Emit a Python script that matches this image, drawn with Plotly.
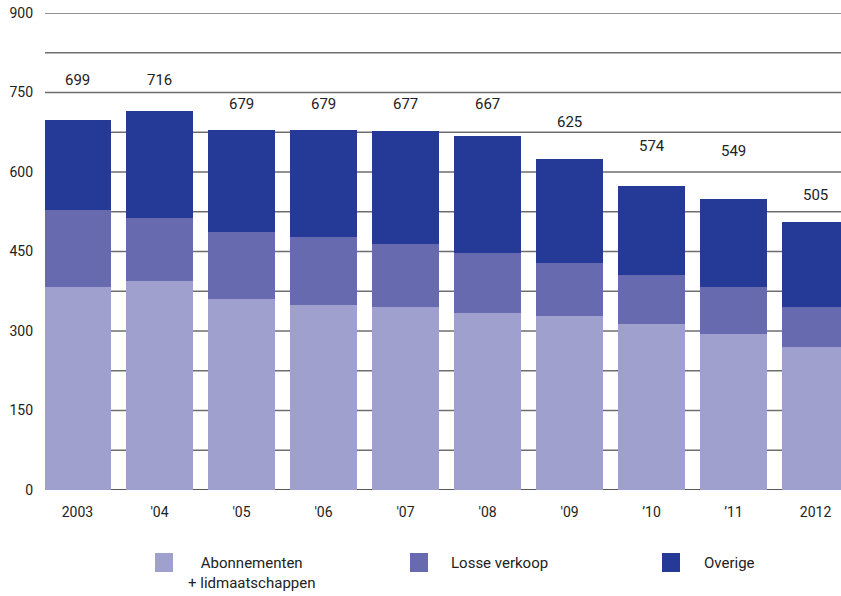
import plotly.graph_objects as go

categories = ["2003", "'04", "'05", "'06", "'07", "'08", "'09", "’10", "’11", "2012"]
abonnementen = [383, 394, 360, 349, 345, 334, 328, 313, 294, 270]
losse_verkoop = [145, 119, 127, 128, 119, 113, 100, 93, 89, 75]
overige = [171, 203, 192, 202, 213, 220, 197, 168, 166, 160]
totals = [699, 716, 679, 679, 677, 667, 625, 574, 549, 505]
label_y = [774, 774, 728, 728, 728, 728, 694, 649, 640, 557]

series_names = ["Abonnementen<br>+ lidmaatschappen", "Losse verkoop", "Overige"]
series_colors = ["#9FA0CD", "#676AAF", "#253A96"]

font_family = "Roboto, Liberation Sans, sans-serif"
text_color = "#222222"

W, H = 841, 596
L, R, T, B = 45, 0, 13, 106
pw, ph = W - L - R, H - T - B


def px_x(px):
    return (px - L) / pw


def px_y(py):
    return (H - B - py) / ph


fig = go.Figure()
for name, vals, col in zip(series_names, [abonnementen, losse_verkoop, overige], series_colors):
    fig.add_trace(go.Bar(x=list(range(len(categories))), y=vals, name=name,
                         marker=dict(color=col, line=dict(width=0)), showlegend=False))

for i, (t, ly) in enumerate(zip(totals, label_y)):
    fig.add_annotation(x=i, y=ly, text=str(t), showarrow=False,
                       font=dict(size=15, color=text_color, family=font_family),
                       xanchor="center", yanchor="middle")

# legend drawn manually in pixel positions
legend_sq_x = [155, 410, 662]
legend_tx_x = [186, 449, 702]
for name, col, sx, tx in zip(series_names, series_colors, legend_sq_x, legend_tx_x):
    fig.add_shape(type="rect", xref="paper", yref="paper",
                  x0=px_x(sx), x1=px_x(sx + 18), y0=px_y(553), y1=px_y(572),
                  fillcolor=col, line=dict(width=0))
    fig.add_annotation(xref="paper", yref="paper", x=px_x(tx), y=px_y(552),
                       text=name, showarrow=False, xanchor="left", yanchor="top",
                       align="center",
                       font=dict(size=15, color=text_color, family=font_family))

fig.update_layout(
    barmode="stack",
    bargap=0.183,
    width=W, height=H,
    margin=dict(l=L, r=R, t=T, b=B, autoexpand=False),
    plot_bgcolor="white", paper_bgcolor="white",
    font=dict(family=font_family, size=14, color=text_color),
    showlegend=False,
    xaxis=dict(range=[-0.396, 9.31], showgrid=False, ticks="", showline=False,
               tickmode="array", tickvals=list(range(len(categories))), ticktext=categories,
               tickfont=dict(size=14), ticklabelstandoff=12, zeroline=False, automargin=False),
    yaxis=dict(range=[0, 900], tickvals=[0, 150, 300, 450, 600, 750, 900],
               showgrid=False, zeroline=False, ticks="", showline=False,
               tickfont=dict(size=14), ticklabelstandoff=11, automargin=False),
)

# gridlines every 75 drawn beneath bars
for v in range(75, 901, 75):
    fig.add_shape(type="line", xref="paper", yref="y", x0=0, x1=1, y0=v, y1=v,
                  line=dict(color="#6e6e6e", width=1.6), layer="below")
fig.add_shape(type="line", xref="paper", yref="y", x0=0, x1=1, y0=0, y1=0,
              line=dict(color="#222222", width=1.6), layer="below")

fig.write_html("out.html", config={"displayModeBar": False},
               post_script="document.body.style.margin='0';document.body.style.overflow='hidden';")
